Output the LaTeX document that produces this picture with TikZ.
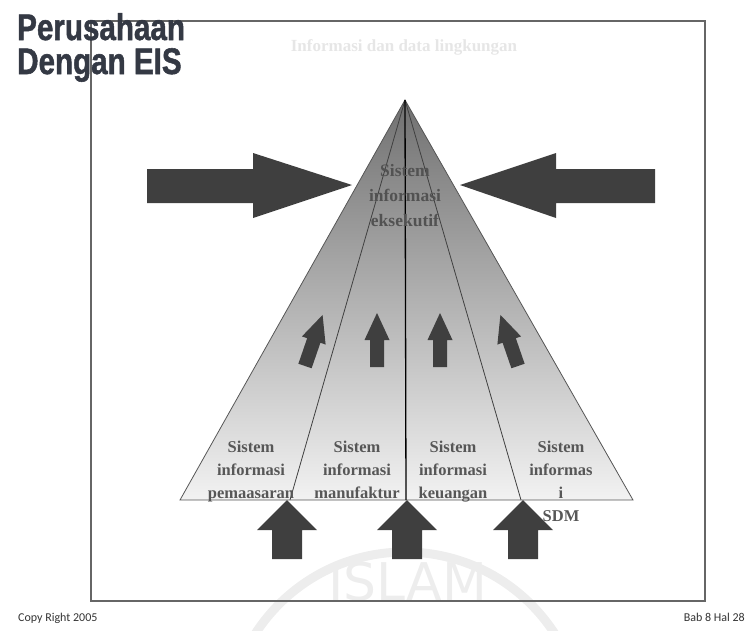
\documentclass[tikz,border=0pt]{standalone}
\usepackage{fontspec}
\setmainfont{Liberation Serif}
\newfontfamily\titlefont[FakeBold=1.5]{Liberation Sans Bold}
\newfontfamily\footfont{Carlito}
\newfontfamily\markfont{DejaVu Sans}
\definecolor{titlecol}{HTML}{343944}
\definecolor{blockcol}{HTML}{3F3F3F}
\definecolor{txtcol}{HTML}{575757}
\definecolor{faintcol}{HTML}{E6E6E6}
\definecolor{markcol}{HTML}{EDEDED}
\definecolor{edgecol}{HTML}{555555}
\tikzset{
  fatup/.pic={\fill[blockcol] (-15,0) -- (-15,-29) -- (-30,-29) -- (0,-59) -- (30,-29) -- (15,-29) -- (15,0) -- cycle;},
  thinup/.pic={\fill[blockcol] (-7,0) -- (-7,-27) -- (-12.5,-27) -- (0,-54) -- (12.5,-27) -- (7,-27) -- (7,0) -- cycle;},
  lbl/.style={inner sep=0pt, align=center, text=txtcol, font=\bfseries\fontsize{16.5}{23}\selectfont, anchor=north},
  foot/.style={inner sep=0pt, text=black!80, font=\footfont\fontsize{12}{13}\selectfont},
  ttl/.style={inner sep=0pt, anchor=base west, text=titlecol, font=\titlefont\fontsize{37}{38}\selectfont},
}
\begin{document}
\begin{tikzpicture}[x=1pt,y=-1pt]
\useasboundingbox (0,0) rectangle (750,630);
% watermark
\draw[markcol, line width=9pt] (405,730) circle[radius=178];
\node[inner sep=0pt, text=markcol, font=\markfont\fontsize{52}{54}\selectfont] (wm) at (408,582) {ISLAM};
% frame
\node[draw=black!60, line width=1.2pt, minimum width=614pt, minimum height=580pt, inner sep=0pt] (frame) at (398,311) {};
% faint top text
\node[inner sep=0pt, text=faintcol, font=\bfseries\fontsize{17}{20}\selectfont] (env) at (404,47) {Informasi dan data lingkungan};
% pyramid
\coordinate (A) at (405,100);
\coordinate (BL) at (180,500);
\coordinate (BR) at (633,500);
\coordinate (D1) at (290,500);
\coordinate (D2) at (406,500);
\coordinate (D3) at (521,500);
\shade[top color=black!56, bottom color=black!5] (A) -- (BL) -- (BR) -- cycle;
\draw[edgecol, line width=0.8pt] (A) -- (BL) -- (BR) -- cycle;
\draw[black!75, line width=0.8pt] (A) -- (D1) (A) -- (D3);
\draw[black, line width=1.3pt] (A) -- (D2);
% big side arrows
\fill[blockcol] (147,169) -- (253,169) -- (253,153) -- (352,185) -- (253,218) -- (253,203) -- (147,203) -- cycle;
\fill[blockcol] (655,169) -- (556,169) -- (556,153) -- (460,185) -- (556,218) -- (556,203) -- (655,203) -- cycle;
% small arrows
\pic[rotate=-19] at (305,366) {thinup};
\pic at (377,367) {thinup};
\pic at (440,367) {thinup};
\pic[rotate=19] at (518,366) {thinup};
% bottom arrows
\pic at (287,559) {fatup};
\pic at (407,559) {fatup};
\pic at (523,559) {fatup};
% labels
\node[lbl, text=black!68, font=\bfseries\fontsize{17.5}{25}\selectfont] (eis) at (405,164) {Sistem\\informasi\\eksekutif};
\node[lbl] (sim) at (251,441) {Sistem\\informasi\\pemaasaran};
\node[lbl] (sip) at (357,441) {Sistem\\informasi\\manufaktur};
\node[lbl] (sik) at (453,441) {Sistem\\informasi\\keuangan};
\node[lbl] (sis) at (561,441) {Sistem\\informas\\i\\SDM};
% title
\node[ttl] (t1) at (17,40) {\scalebox{0.8}[1]{Perusahaan}};
\node[ttl] (t2) at (17,74) {\scalebox{0.8}[1]{Dengan EIS}};
% footer
\node[foot, anchor=base west] (cr) at (18,621) {Copy Right 2005};
\node[foot, anchor=base east] (pg) at (745,621) {Bab 8 Hal 28};
\end{tikzpicture}
\end{document}
